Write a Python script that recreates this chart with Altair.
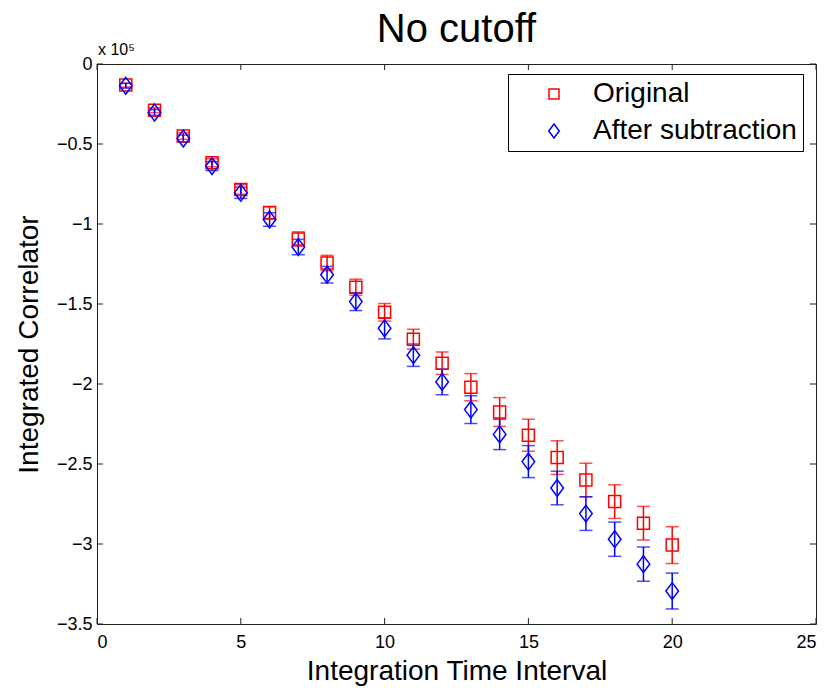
import altair as alt
import pandas as pd

# Integration time interval
interval = list(range(1, 21))
# Integrated correlator values, in units of 10^5
original = [-0.132, -0.289, -0.450, -0.617, -0.784, -0.930, -1.094, -1.244, -1.395, -1.552,
            -1.720, -1.870, -2.020, -2.175, -2.320, -2.460, -2.600, -2.735, -2.870, -3.007]
original_err = [0.012, 0.015, 0.020, 0.025, 0.030, 0.040, 0.045, 0.048, 0.050, 0.055,
                0.062, 0.070, 0.085, 0.090, 0.100, 0.105, 0.105, 0.105, 0.105, 0.115]
after = [-0.136, -0.303, -0.466, -0.638, -0.805, -0.972, -1.144, -1.317, -1.485, -1.652,
         -1.820, -1.987, -2.160, -2.315, -2.485, -2.650, -2.810, -2.970, -3.126, -3.294]
after_err = [0.015, 0.018, 0.022, 0.028, 0.035, 0.042, 0.048, 0.052, 0.056, 0.066,
             0.070, 0.080, 0.087, 0.095, 0.100, 0.105, 0.105, 0.107, 0.107, 0.112]
series_names = ["Original", "After subtraction"]
series_colors = ["#ff0000", "#0000ff"]
x_ticks = [0, 5, 10, 15, 20, 25]
y_ticks = [0, -0.5, -1, -1.5, -2, -2.5, -3, -3.5]

rows = []
for name, vals, errs in [(series_names[0], original, original_err), (series_names[1], after, after_err)]:
    for t, v, e in zip(interval, vals, errs):
        rows.append({"t": t, "v": v, "lo": v - e, "hi": v + e, "series": name})
df = pd.DataFrame(rows)
xt = pd.DataFrame({"t": x_ticks})
yt = pd.DataFrame({"v": y_ticks})

W, H = 719, 560
FONT = "Liberation Sans"
DIAMOND = "M0,-1.4L1.05,0L0,1.4L-1.05,0Z"

xscale = alt.Scale(domain=[0, 25], nice=False, zero=False)
yscale = alt.Scale(domain=[-3.5, 0], nice=False, zero=False)
color = alt.Color("series:N", scale=alt.Scale(domain=series_names, range=series_colors),
                  legend=alt.Legend(title=None))
shape = alt.Shape("series:N", scale=alt.Scale(domain=series_names, range=["square", DIAMOND]),
                  legend=alt.Legend(title=None))

xaxis = alt.Axis(values=x_ticks, ticks=False, tickSize=0, domain=False, grid=False,
                 labelFontSize=18, labelPadding=9, labelColor="#000",
                 title="Integration Time Interval", titleFontSize=28, titleFontWeight="normal",
                 titleColor="#000", titleX=W / 2, titleY=55, titleBaseline="alphabetic")
yaxis = alt.Axis(values=y_ticks, ticks=False, tickSize=0, domain=False, grid=False,
                 labelFontSize=18, labelPadding=5, labelColor="#000", format="~g",
                 title="Integrated Correlator", titleFontSize=28, titleFontWeight="normal",
                 titleColor="#000", titleX=-68, titleY=H / 2, titleAngle=-90,
                 titleBaseline="middle", titleAlign="center")

layers = []
# axis carrier (invisible) so axes are defined once
layers.append(alt.Chart(df).mark_point(opacity=0).encode(
    x=alt.X("t:Q", scale=xscale, axis=xaxis),
    y=alt.Y("v:Q", scale=yscale, axis=yaxis),
))
for name, col in zip(series_names, series_colors):
    sub = alt.Chart(df).transform_filter(alt.datum.series == name)
    layers.append(sub.mark_rule(strokeWidth=1.5, color=col).encode(
        x="t:Q", y="lo:Q", y2="hi:Q"))
    layers.append(sub.mark_tick(orient="horizontal", size=13, thickness=1.5, color=col).encode(
        x="t:Q", y="lo:Q"))
    layers.append(sub.mark_tick(orient="horizontal", size=13, thickness=1.5, color=col).encode(
        x="t:Q", y="hi:Q"))

points = alt.Chart(df).mark_point(filled=False, strokeWidth=1.5, opacity=1).encode(
    x="t:Q", y="v:Q", color=color, shape=shape,
    size=alt.value(144),
)
layers.append(points)

tick_col = "#222222"
layers.append(alt.Chart(xt).mark_rule(color=tick_col).encode(
    x="t:Q", y=alt.value(H), y2=alt.value(H - 6)))
layers.append(alt.Chart(xt).mark_rule(color=tick_col).encode(
    x="t:Q", y=alt.value(0), y2=alt.value(6)))
layers.append(alt.Chart(yt).mark_rule(color=tick_col).encode(
    y="v:Q", x=alt.value(0), x2=alt.value(6)))
layers.append(alt.Chart(yt).mark_rule(color=tick_col).encode(
    y="v:Q", x=alt.value(W), x2=alt.value(W - 6)))

layers.append(alt.Chart(pd.DataFrame({"s": ["x 10\u2075"]})).mark_text(
    align="left", baseline="alphabetic", fontSize=16, font=FONT, color="#000").encode(
    text="s:N", x=alt.value(1), y=alt.value(-9)))

chart = alt.layer(*layers).properties(
    width=W, height=H,
    title=alt.Title("No cutoff", fontSize=40, fontWeight="normal", font=FONT, color="#000",
                    anchor="middle", offset=0, dy=8),
    autosize=alt.AutoSizeParams(type="none"),
    padding={"left": 97, "top": 64, "right": 12, "bottom": 64},
).configure(font=FONT, background="white").configure_view(
    stroke="#222222", strokeWidth=1
).configure_legend(
    orient="none", legendX=411, legendY=10,
    strokeColor="#000", fillColor="white", padding=6,
    labelFontSize=28, labelColor="#000", labelFont=FONT, labelLimit=400,
    symbolOffset=26, labelOffset=25, rowPadding=9,
    symbolSize=100, symbolStrokeWidth=1.5,
    cornerRadius=0,
)

chart.save("out.html", embed_options={"renderer": "svg", "actions": False})
